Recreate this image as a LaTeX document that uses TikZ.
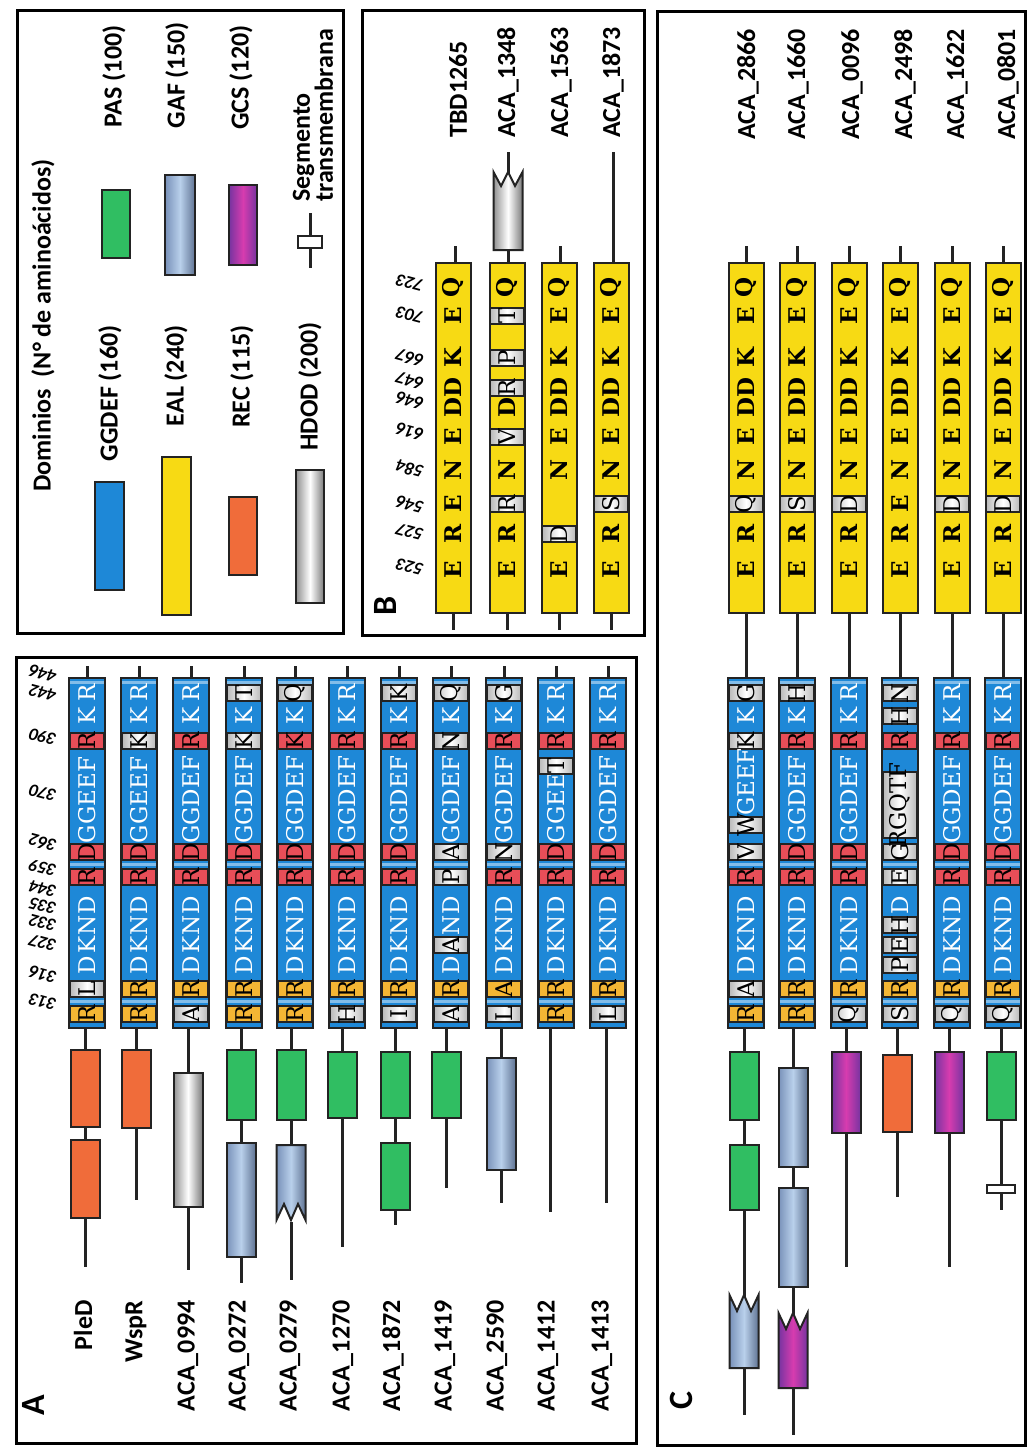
\documentclass[tikz,border=0pt]{standalone}
\usepackage{fontspec}
\setmainfont{Carlito}
\newfontfamily\resfont{DejaVu Serif}
\definecolor{ggblue}{RGB}{30,136,215}
\definecolor{resred}{RGB}{232,78,88}
\definecolor{resorange}{RGB}{244,182,52}
\definecolor{ealyellow}{RGB}{247,218,20}
\definecolor{recorange}{RGB}{240,108,58}
\definecolor{pasgreen}{RGB}{48,190,98}
\definecolor{gafblue}{RGB}{120,145,185}
\definecolor{gaflight}{RGB}{185,208,235}
\definecolor{gcspurple}{RGB}{118,52,160}
\definecolor{gcsmag}{RGB}{215,60,175}
\definecolor{hdodgray}{RGB}{145,145,145}
\definecolor{outl}{RGB}{35,35,35}
% ---- residue slot machinery
\def\consname{cons}
\def\blankname{blank}
\def\slotp#1/#2\relax{\def\tmpS{#1}%
 \ifx\tmpS\consname \node[consst] at (\curx,\cury) {#2};%
 \else\ifx\tmpS\blankname\relax
 \else \draw[#1] (\curx-17,\cury-8) rectangle (\curx+17,\cury+8); \node[rk] at (\curx,\cury) {#2};%
 \fi\fi}
\newcommand{\slotat}[3]{\def\cury{#3}\pgfkeysgetvalue{/#1/#2}\tmpV\expandafter\slotp\tmpV\relax}
\pgfkeys{/gg/.cd, s313/.initial=sorg/R, s316/.initial=sorg/R, s327/.initial=cons/D, s332/.initial=cons/K,
 s335/.initial=cons/N, s344/.initial=cons/D, s359/.initial=sred/R, s362/.initial=sred/D, s390/.initial=sred/R,
 s442/.initial=cons/K, s446/.initial=cons/R, motif/.initial=GGDEF, my/.initial=800}
\pgfkeys{/eal/.cd, s523/.initial=cons/E, s527/.initial=cons/R, s546/.initial=cons/E, s584/.initial=cons/N,
 s616/.initial=cons/E, s646/.initial=cons/D, s647/.initial=cons/D, s667/.initial=cons/K, s703/.initial=cons/E, s723/.initial=cons/Q}
\newcommand{\RS}[4]{\draw[#3] (#1-17,#2-8) rectangle (#1+17,#2+8); \node[rk] at (#1,#2) {#4};}
\newcommand{\GG}[2][]{\begingroup\pgfkeys{/gg/.cd,#1}\def\curx{#2}\tikzset{consst/.style={rw}}%
 \draw[bb] (#2,666) -- (#2,678);
 \draw[ggdef] (#2-18,678) rectangle (#2+18,1028);
 \fill[ggblue!55!white] (#2-17.4,681) rectangle (#2+17.4,684);
 \fill[ggblue!55!white] (#2-17.4,863) rectangle (#2+17.4,866);
 \fill[ggblue!55!white] (#2-17.4,1000) rectangle (#2+17.4,1003);
 \slotat{gg}{s313}{1014}\slotat{gg}{s316}{989}\slotat{gg}{s327}{965}\slotat{gg}{s332}{945}%
 \slotat{gg}{s335}{925}\slotat{gg}{s344}{905}\slotat{gg}{s359}{877}\slotat{gg}{s362}{852}%
 \slotat{gg}{s390}{741}\slotat{gg}{s442}{716}\slotat{gg}{s446}{693}%
 \pgfkeysgetvalue{/gg/motif}\tmpM\pgfkeysgetvalue{/gg/my}\tmpY
 \node[rw] at (#2,\tmpY) {\tmpM};
 \endgroup}
\newcommand{\EAL}[2][]{\begingroup\pgfkeys{/eal/.cd,#1}\def\curx{#2}\tikzset{consst/.style={rb}}%
 \draw[eal] (#2-17.5,263) rectangle (#2+17.5,613);
 \slotat{eal}{s523}{570}\slotat{eal}{s527}{534}\slotat{eal}{s546}{504}\slotat{eal}{s584}{470}%
 \slotat{eal}{s616}{437}\slotat{eal}{s646}{408}\slotat{eal}{s647}{388}\slotat{eal}{s667}{358}%
 \slotat{eal}{s703}{316}\slotat{eal}{s723}{287}%
 \endgroup}
\newcommand{\bbl}[3]{\draw[bb] (#1,#2) -- (#1,#3);}
\newcommand{\dm}[4]{\draw[#1] (#2-14.5,#3) rectangle (#2+14.5,#4);}
\newcommand{\notchtop}[5]{\draw[#1] (#2-14.5,#3) -- (#2-7,#3+#5) -- (#2,#3) -- (#2+7,#3+#5) -- (#2+14.5,#3) -- (#2+14.5,#4) -- (#2-14.5,#4) -- cycle;}
\newcommand{\notchbot}[5]{\draw[#1] (#2-14.5,#3) -- (#2+14.5,#3) -- (#2+14.5,#4) -- (#2+7,#4-#5) -- (#2,#4) -- (#2-7,#4-#5) -- (#2-14.5,#4) -- cycle;}
\begin{document}
\begin{tikzpicture}[x=0.5pt,y=-0.5pt,
 bb/.style={line width=1.5pt, draw=outl},
 dom/.style={draw=outl, line width=1pt},
 ggdef/.style={dom, fill=ggblue},
 eal/.style={dom, fill=ealyellow},
 rec/.style={dom, fill=recorange},
 pas/.style={dom, fill=pasgreen},
 gaf/.style={dom, left color=gafblue, right color=gafblue!80!black, middle color=gaflight},
 gcs/.style={dom, left color=gcspurple, right color=gcspurple, middle color=gcsmag},
 hdod/.style={dom, left color=hdodgray, right color=hdodgray!85!black, middle color=white},
 sred/.style={draw=outl, line width=0.8pt, fill=resred},
 sorg/.style={draw=outl, line width=0.8pt, fill=resorange},
 sgray/.style={draw=outl, line width=0.8pt, left color=gray!55, right color=gray!55, middle color=white},
 rw/.style={text=white, font=\resfont\fontsize{11.5}{12}\selectfont, rotate=90, inner sep=0},
 rk/.style={rw, text=black},
 rb/.style={rk, font=\resfont\bfseries\fontsize{11.5}{12}\selectfont},
 consst/.style={rw},
 lab/.style={font=\bfseries\fontsize{13}{14}\selectfont, rotate=90, inner sep=0},
 num/.style={font=\bfseries\itshape\fontsize{9}{9}\selectfont, rotate=165, inner sep=0},
 plab/.style={font=\bfseries\fontsize{17}{17}\selectfont, rotate=90, inner sep=0},
 panel/.style={draw=black, line width=1.5pt}]
\useasboundingbox (0,0) rectangle (1028,1450);
\fill[white] (0,0) rectangle (1028,1450);
% panel frames
\draw[panel] (16,657) rectangle (636,1443);
\draw[panel] (17,11) rectangle (343,633);
\draw[panel] (362,11) rectangle (644,635);
\draw[panel] (657,12) rectangle (1025,1445);
% ---------------- legend
\node[lab, anchor=west] (ltitle) at (43,492) {Dominios\ \ (N° de aminoácidos)};
\draw[ggdef] (95,482) rectangle (124,590);
\node[lab, anchor=east] (lgg) at (110,325) {GGDEF (160)};
\draw[pas] (102,190) rectangle (130,258);
\node[lab, anchor=east] (lpas) at (114,25) {PAS (100)};
\draw[eal] (162,457) rectangle (191,615);
\node[lab, anchor=east] (leal) at (176,325) {EAL (240)};
\draw[gaf] (165,175) rectangle (195,275);
\node[lab, anchor=east] (lgaf) at (177,22) {GAF (150)};
\draw[rec] (229,497) rectangle (257,575);
\node[lab, anchor=east] (lrec) at (242,325) {REC (115)};
\draw[gcs] (229,185) rectangle (257,265);
\node[lab, anchor=east] (lgcs) at (241,25) {GCS (120)};
\draw[hdod] (296,470) rectangle (324,603);
\node[lab, anchor=east] (lhdod) at (310,322) {HDOD (200)};
\draw[bb] (310,213) -- (310,268);
\draw[dom, fill=white] (298,236) rectangle (322,248);
\node[lab, anchor=west, align=left, font=\bfseries\fontsize{13}{11.5}\selectfont] (ltm) at (313,202) {Segmento\\transmembrana};
% ---------------- panel A
\node[plab] (pA) at (33,1405) {A};
\foreach \n/\yy in {446/674,442/693,390/737,370/793,362/843,359/868,344/889,335/906,332/923,327/943,316/975,313/1002}
  \node[num] (na\n) at (43,\yy) {\n};
% backbone lines and domains
\bbl{85}{1028}{1267} \dm{rec}{85}{1050}{1127} \dm{rec}{85}{1140}{1218}
\bbl{136}{1028}{1200} \dm{rec}{136}{1050}{1128}
\bbl{188}{1028}{1270} \dm{hdod}{188}{1073}{1207}
\bbl{241}{1028}{1283} \dm{pas}{241}{1050}{1120} \dm{gaf}{241}{1143}{1257}
\bbl{291}{1028}{1150} \bbl{291}{1222}{1280} \dm{pas}{291}{1050}{1120} \notchbot{gaf}{291}{1145}{1220}{16}
\bbl{342}{1028}{1247} \dm{pas}{342}{1052}{1118}
\bbl{395}{1028}{1225} \dm{pas}{395}{1052}{1118} \dm{pas}{395}{1143}{1210}
\bbl{446}{1028}{1188} \dm{pas}{446}{1052}{1118}
\bbl{501}{1028}{1203} \dm{gaf}{501}{1058}{1170}
\bbl{550}{1028}{1212}
\bbl{606}{1028}{1203}
% GGDEF domains
\GG[motif=GGEEF, s316=sgray/L]{87}
\GG[motif=GGEEF, s390=sgray/K]{139}
\GG[s313=sgray/A]{191}
\GG[s390=sgray/K, s446=sgray/T]{244}
\GG[s390=sred/K, s446=sgray/Q]{295}
\GG[s313=sgray/H]{347}
\GG[s313=sgray/I, s446=sgray/K]{399}
\GG[s313=sgray/A, s332=sgray/A, s359=sgray/P, s362=sgray/A, s390=sgray/N, s446=sgray/Q]{451}
\GG[s313=sgray/L, s316=sorg/A, s362=sgray/N, s446=sgray/G]{504}
\GG[motif=GGEE, my=808]{556} \RS{556}{766}{sgray}{T}
\GG[s313=sgray/L]{608}
% labels
\node[lab, anchor=east] (pled) at (83,1300) {PleD};
\node[lab, anchor=east] (wspr) at (136,1300) {WspR};
\node[lab, anchor=east] (a0994) at (188,1300) {ACA\_0994};
\node[lab, anchor=east] (a0272) at (239,1300) {ACA\_0272};
\node[lab, anchor=east] (a0279) at (290,1300) {ACA\_0279};
\node[lab, anchor=east] (a1270) at (343,1300) {ACA\_1270};
\node[lab, anchor=east] (a1872) at (393,1300) {ACA\_1872};
\node[lab, anchor=east] (a1419) at (445,1300) {ACA\_1419};
\node[lab, anchor=east] (a2590) at (497,1300) {ACA\_2590};
\node[lab, anchor=east] (a1412) at (548,1300) {ACA\_1412};
\node[lab, anchor=east] (a1413) at (602,1300) {ACA\_1413};
% ---------------- panel B
\node[plab] (pB) at (385,606) {B};
\foreach \n/\yy in {723/283,703/315,667/358,647/381,646/401,616/432,584/469,546/505,527/532,523/567}
  \node[num] (nb\n) at (410,\yy) {\n};
\bbl{455}{246}{263} \bbl{453}{613}{630} \EAL{453}
\bbl{508}{152}{263} \bbl{507}{613}{630} \notchtop{hdod}{508}{172}{250}{14}
\EAL[s546=sgray/R, s616=sgray/V, s647=sgray/R, s667=sgray/P, s703=sgray/T]{507}
\bbl{560}{246}{263} \bbl{559}{613}{630} \EAL[s527=sgray/D, s546=blank/E]{559}
\bbl{613}{152}{263} \bbl{611}{613}{630} \EAL[s546=sgray/S]{611}
\node[lab, anchor=west] (tbd) at (458,138) {TBD1265};
\node[lab, anchor=west] (b1348) at (508,138) {ACA\_1348};
\node[lab, anchor=west] (b1563) at (561,138) {ACA\_1563};
\node[lab, anchor=west] (b1873) at (613,138) {ACA\_1873};
% ---------------- panel C
\node[plab] (pC) at (681,1400) {C};
\foreach \cx in {746,797,849,900,952,1003} {\bbl{\cx}{246}{263} \bbl{\cx}{613}{678}}
\bbl{744}{1028}{1415} \dm{pas}{744}{1052}{1120} \dm{pas}{744}{1145}{1210} \notchtop{gaf}{744}{1295}{1368}{16}
\bbl{793}{1028}{1435} \dm{gaf}{793}{1068}{1167} \dm{gaf}{793}{1188}{1287} \notchtop{gcs}{793}{1313}{1388}{16}
\bbl{846}{1028}{1267} \dm{gcs}{846}{1052}{1133}
\bbl{897}{1028}{1197} \dm{rec}{897}{1055}{1132}
\bbl{949}{1028}{1267} \dm{gcs}{949}{1052}{1133}
\bbl{1001}{1028}{1210} \dm{pas}{1001}{1052}{1120}
\draw[dom, fill=white] (1001-14,1185) rectangle (1001+14,1193);
\EAL[s546=sgray/Q]{746}
\EAL[s546=sgray/S]{797}
\EAL[s546=sgray/D]{849}
\EAL{900}
\EAL[s546=sgray/D]{952}
\EAL[s546=sgray/D]{1003}
\GG[motif=GEEF, my=782, s316=sgray/A, s362=sgray/V, s390=sgray/K, s446=sgray/G]{746} \RS{746}{825}{sgray}{W}
\GG[s446=sgray/H]{797}
\GG[s313=sgray/Q]{849}
\GG[motif={}, s313=sgray/S, s327=sgray/P, s332=sgray/E, s335=sgray/H, s359=sgray/E, s362=sgray/G, s442=sgray/H, s446=sgray/N]{900}
 \draw[sgray] (900-17,772) rectangle (900+17,838); \node[rk] (rgqtf) at (900,805) {RGQTF};
\GG[s313=sgray/Q]{952}
\GG[s313=sgray/Q]{1003}
\node[lab, anchor=west] (c2866) at (748,140) {ACA\_2866};
\node[lab, anchor=west] (c1660) at (798,140) {ACA\_1660};
\node[lab, anchor=west] (c0096) at (852,140) {ACA\_0096};
\node[lab, anchor=west] (c2498) at (905,140) {ACA\_2498};
\node[lab, anchor=west] (c1622) at (957,140) {ACA\_1622};
\node[lab, anchor=west] (c0801) at (1008,140) {ACA\_0801};
\end{tikzpicture}
\end{document}
